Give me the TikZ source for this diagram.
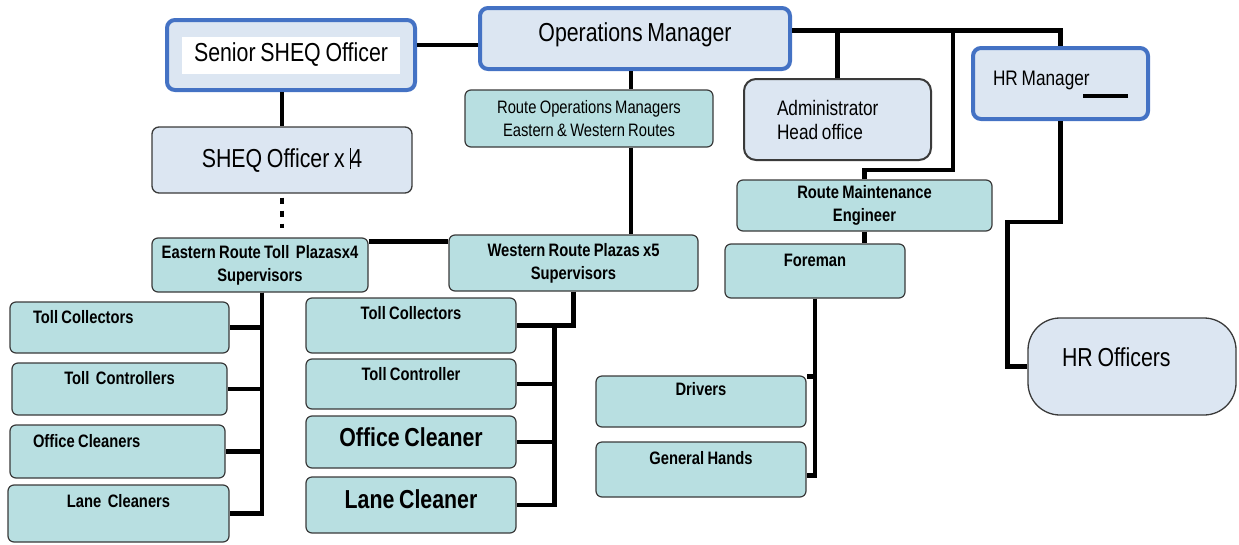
\documentclass[tikz,border=0pt]{standalone}
\usepackage{fontspec}
\setmainfont{Liberation Sans}[FakeStretch=0.82, WordSpace=0.8]

\newcommand\headsize{\fontsize{26}{30}\selectfont}
\newcommand\midsize{\fontsize{21}{24}\selectfont}
\newcommand\staffsize{\fontsize{18}{23}\selectfont}
\newcommand\cleansize{\fontsize{26}{30}\selectfont\bfseries}

\definecolor{headblue}{HTML}{4472C4}
\definecolor{paleblue}{HTML}{DCE6F2}
\definecolor{staffteal}{HTML}{B8DFE1}
\definecolor{rim}{HTML}{3A3A3A}

\begin{document}
\begin{tikzpicture}[x=1pt, y=-1pt,
  head/.style={draw=headblue, line width=4pt, fill=paleblue,
    rounded corners=8pt, inner sep=0pt, font=\headsize},
  pale/.style={draw=rim, line width=1.3pt, fill=paleblue,
    rounded corners=7pt, inner sep=0pt, font=\headsize},
  staff/.style={draw=rim, line width=1.2pt, fill=staffteal,
    rounded corners=6pt, inner sep=0pt, align=center,
    font=\staffsize\bfseries},
  link/.style={line width=4.5pt}]

  \useasboundingbox (0,0) rectangle (1239,544);

  %% managers
  \node[head, minimum width=248pt, minimum height=70pt] (senior) at (291,55) {};
  \node[fill=white, inner sep=0pt, minimum width=218pt, minimum height=37pt,
    font=\headsize] (seniortitle) at (senior) {Senior SHEQ Officer};
  \node[head, minimum width=310pt, text height=33pt, text depth=28pt]
    (ops) at (635,38.5) {Operations Manager};
  \node[head, font=\midsize, inner xsep=20pt, text width=135pt, align=flush left,
    text height=37.5pt, text depth=33.5pt] (hrman) at (1060.5,83.5) {HR Manager};

  \node[pale, minimum width=260pt, minimum height=66pt]
    (sheq) at (282,160) {SHEQ Officer x \rule[-2pt]{0.8pt}{21pt}4};
  \node[pale, font=\midsize, line width=2pt, rounded corners=12pt,
    inner xsep=33pt, text width=121pt, align=flush left, minimum height=81pt]
    (admin) at (837.5,119.5) {Administrator\\Head office};
  \node[pale, rounded corners=32pt, inner xsep=34pt, text width=140pt,
    align=flush left, text height=48pt, text depth=49pt]
    (hroff) at (1132,366.5) {HR Officers};

  %% route staff
  \node[staff, font=\staffsize, minimum width=248pt, minimum height=57pt]
    (routeops) at (589,118.5) {Route Operations Managers\\Eastern \& Western Routes};
  \node[staff, minimum width=255pt, minimum height=51pt]
    (maint) at (864.5,205.5) {Route Maintenance\\Engineer};
  \node[staff, minimum width=180pt, text height=22.5pt, text depth=31.5pt]
    (foreman) at (815,271) {Foreman};
  \node[staff, minimum width=210pt, text height=19.5pt, text depth=31.5pt]
    (drivers) at (701,401.5) {Drivers};
  \node[staff, minimum width=210pt, text height=22.5pt, text depth=32.5pt]
    (hands) at (701,469.5) {General Hands};
  \node[staff, minimum width=216pt, minimum height=54pt]
    (east) at (260,265) {Eastern Route Toll~ Plazasx4\\Supervisors};
  \node[staff, minimum width=249pt, minimum height=56pt]
    (west) at (573.5,263) {Western Route Plazas x5\\Supervisors};

  %% eastern plazas
  \node[staff, inner xsep=23pt, text width=173pt, align=flush left,
    text height=21.5pt, text depth=29.5pt] (etc) at (119.5,327.5) {Toll Collectors};
  \node[staff, minimum width=215pt, text height=21.5pt, text depth=30.5pt]
    (etn) at (119.5,389) {Toll~ Controllers};
  \node[staff, inner xsep=23pt, text width=169pt, align=flush left,
    text height=22.5pt, text depth=30.5pt] (eoc) at (117.5,451.5) {Office Cleaners};
  \node[staff, minimum width=221pt, text height=22.5pt, text depth=34.5pt]
    (elc) at (118.5,513.5) {Lane~ Cleaners};

  %% western plazas
  \node[staff, minimum width=210pt, text height=21.5pt, text depth=33.5pt]
    (wtc) at (411,325.5) {Toll Collectors};
  \node[staff, minimum width=210pt, text height=21.5pt, text depth=28.5pt]
    (wtn) at (411,384) {Toll Controller};
  \node[staff, font=\cleansize, minimum width=210pt, text height=30.3pt,
    text depth=21.7pt] (woc) at (411,442) {Office Cleaner};
  \node[staff, font=\cleansize, minimum width=210pt, text height=31.3pt,
    text depth=24.7pt] (wlc) at (411,505) {Lane Cleaner};

  %% reporting lines
  \coordinate (spine) at (631,0);
  \coordinate (bus) at ([yshift=8pt]ops.east);

  \draw[link] ([yshift=10pt]senior.east) -- ([yshift=10pt]senior.east -| ops.west);
  \draw[link] (senior.south -| sheq.north) -- (sheq.north);
  \draw[link, line width=4pt, dash pattern=on 6pt off 7pt,
    shorten <=4pt, shorten >=9pt] (sheq.south) -- (sheq.south |- east.north);

  \draw[link] (ops.south -| spine) -- (routeops.north -| spine);
  \draw[link] (routeops.south -| spine) -- (west.north -| spine);
  \draw[link] ([yshift=-4pt]east.north east) -- ([yshift=-4pt]east.north east -| west.west);

  \draw[link] (bus) -| (hrman.north);
  \draw[link] (admin.north) -- (admin.north |- bus);
  \draw[link] (maint.north) |- (953,170) -- (953,30.5);
  \draw[link] (hrman.south) -- ++(0,101) -| ([xshift=-20pt]hroff.west) -- (hroff.west);
  \draw[link, line width=4pt] ([xshift=-22pt, yshift=-12.5pt]hrman.east) -- ++(-45,0);

  \draw[link] (maint.south) -- (maint.south |- foreman.north);
  \draw[link] (foreman.south) |- ([yshift=-1pt]drivers.north east);
  \draw[link] (foreman.south) |- ([yshift=-6pt]hands.east);

  \foreach \n in {etc,etn,eoc,elc}
    \draw[link] ([xshift=2pt]east.south) |- (\n.east);

  \draw[link] (west.south) |- (wtc.east);
  \foreach \n in {wtn,woc,wlc}
    \draw[link] ([xshift=38pt]wtc.east) |- (\n.east);

\end{tikzpicture}
\end{document}
